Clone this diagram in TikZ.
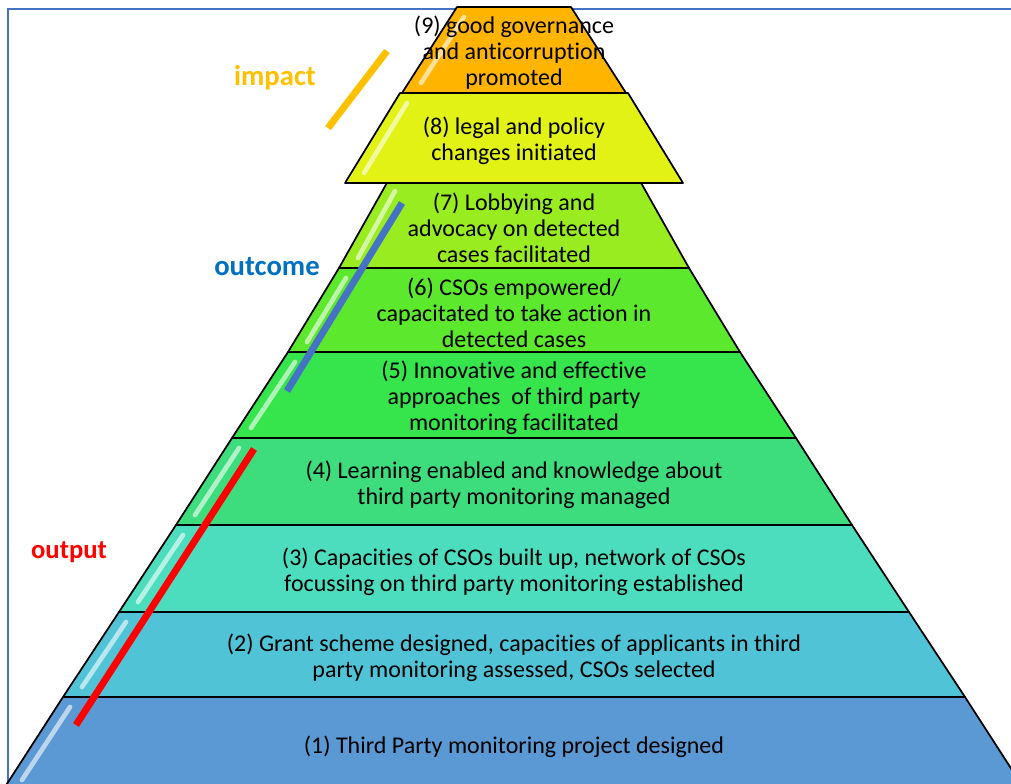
\documentclass[tikz,border=0pt]{standalone}
\usepackage{fontspec}
\setmainfont{Carlito}[Ligatures=NoCommon]
\usepackage{tikz}
\definecolor{frameblue}{HTML}{4472C4}
\definecolor{impactgold}{HTML}{FFC000}
\definecolor{outcomeblue}{HTML}{0070C0}
\definecolor{lvone}{HTML}{5B99D4}
\definecolor{lvtwo}{HTML}{50C4D6}
\definecolor{lvthree}{HTML}{4CDDBE}
\definecolor{lvfour}{HTML}{3DDC7C}
\definecolor{lvfive}{HTML}{36E44C}
\definecolor{lvsix}{HTML}{5CE82C}
\definecolor{lvseven}{HTML}{98EC20}
\definecolor{lveight}{HTML}{E2F214}
\definecolor{lvnine}{HTML}{FFB400}
\tikzset{
    band/.style={draw=black,line width=1.3pt,line join=round},
    gloss/.style={white,opacity=0.6,line width=3.5pt,line cap=round},
    bandtext/.style={align=center,inner sep=0pt,font=\fontsize{18}{19.6}\selectfont},
    tag/.style={font=\fontsize{21.5}{24}\selectfont\bfseries},
    bar/.style={line width=5.2pt}
}
% name, top y, bottom y, top left x, bottom left x, colour, text
\newcommand{\band}[7]{
    \filldraw[band,fill=#6] (#4,#2) -- ({1028-#4},#2) -- ({1028-#5},#3) -- (#5,#3) -- cycle;
    \draw[gloss] ({#4+7},{#2+10}) -- ({#5+19},{#3-10});
    \node[bandtext] (#1) at (514,{(#2+#3)/2+3}) {#7};
}

\begin{document}
\begin{tikzpicture}[x=0.75pt,y=-0.75pt]
            \clip (0,0) rectangle (1011,783);
            \draw[frameblue,line width=1.6pt] (1040,9) -- (8,9) -- (8,800);
            \band{l1}{697}{790}{63}{3}{lvone}{(1) Third Party monitoring project designed}
            \band{l2}{612}{697}{119}{63}{lvtwo}{(2) Grant scheme designed, capacities of applicants in third\\party monitoring assessed, CSOs selected}
            \band{l3}{525}{612}{176}{119}{lvthree}{(3) Capacities of CSOs built up, network of CSOs\\focussing on third party monitoring established}
            \band{l4}{438}{525}{232}{176}{lvfour}{(4) Learning enabled and knowledge about\\third party monitoring managed}
            \band{l5}{352}{438}{288}{232}{lvfive}{(5) Innovative and effective\\approaches~ of third party\\monitoring facilitated}
            \band{l6}{268}{352}{339}{288}{lvsix}{(6) CSOs empowered/\\capacitated to take action in\\detected cases}
            \band{l7}{181}{268}{388}{339}{lvseven}{(7) Lobbying and\\advocacy on detected\\cases facilitated}
            \band{l8}{93}{183}{400}{345}{lveight}{(8) legal and policy\\changes initiated}
            \band{l9}{7}{93}{457}{402}{lvnine}{(9) good governance\\and anticorruption\\promoted}
            % levels of the chain
            \node[tag,impactgold] (impact) at (275,78) {impact};
            \node[tag,outcomeblue] (outcome) at (267,267) {outcome};
            \node[tag,red,font=\fontsize{20}{24}\selectfont\bfseries] (output) at (69,552) {output};
            \coordinate (imp-a) at (328,128);
            \coordinate (imp-b) at (387,51);
            \coordinate (out-a) at (287,391);
            \coordinate (out-b) at (402,203);
            \coordinate (put-a) at (76,725);
            \coordinate (put-b) at (254,449);
            \draw[bar,impactgold] (imp-a) -- (imp-b);
            \draw[bar,frameblue] (out-a) -- (out-b);
            \draw[bar,red] (put-a) -- (put-b);
        \end{tikzpicture}
\end{document}
